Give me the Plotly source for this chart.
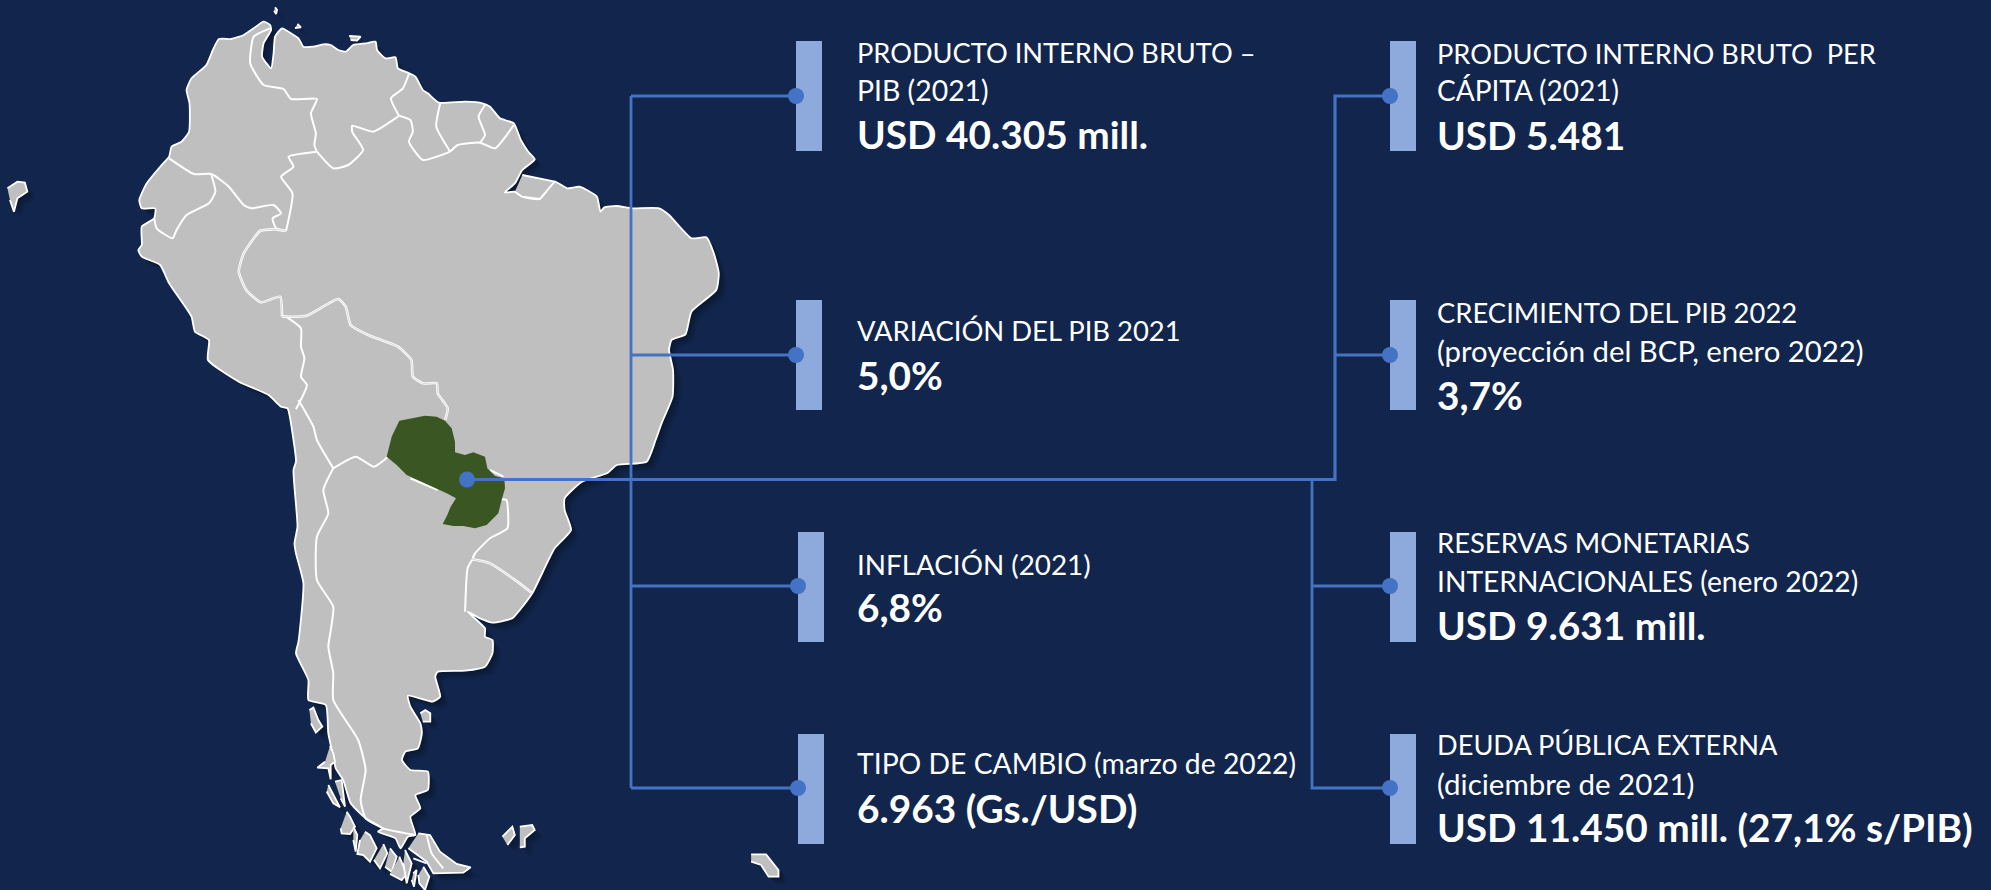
import numpy as np
import plotly.graph_objects as go

# ---------- indicator content ----------
left_titles = [
    ["PRODUCTO INTERNO BRUTO –", "PIB (2021)"],
    ["VARIACIÓN DEL PIB 2021"],
    ["INFLACIÓN (2021)"],
    ["TIPO DE CAMBIO (marzo de 2022)"],
]
left_values = ["USD 40.305 mill.", "5,0%", "6,8%", "6.963 (Gs./USD)"]
right_titles = [
    ["PRODUCTO INTERNO BRUTO  PER", "CÁPITA (2021)"],
    ["CRECIMIENTO DEL PIB 2022", "(proyección del BCP, enero 2022)"],
    ["RESERVAS MONETARIAS", "INTERNACIONALES (enero 2022)"],
    ["DEUDA PÚBLICA EXTERNA", "(diciembre de 2021)"],
]
right_values = ["USD 5.481", "3,7%", "USD 9.631 mill.", "USD 11.450 mill. (27,1% s/PIB)"]

# ---------- map geometry, traced units (x/2.0103, y/3 gives the page position) ----------
N = 1320  # offset between the upper and lower tracing sheets
mainland = [(340,470),(345,440),(365,425),(380,395),(381,310),(375,270),(385,235),(415,195),(428,150),(440,117),(465,117),(490,105),(510,85),(530,65),(543,75),(545,90),
 (530,130),(527,170),(545,205),(550,160),(553,110),(567,85),(585,100),(600,115),(610,140),(630,140),(650,133),(665,135),(680,150),(695,155),(710,135),(735,130),(755,125),(758,150),(775,175),(795,172),(800,205),(820,218),(835,230),(850,270),(860,280),(882,308),(935,305),(970,310),(985,320),(1005,355),(1033,370),(1047,420),(1062,455),(1075,478),(1050,510),(1035,550),(1015,577),
 (1035,575),(1050,590),(1085,597),(1115,545),(1140,565),(1165,560),(1200,590),(1207,635),(1215,622),(1240,618),(1270,625),(1325,625),(1345,645),(1390,715),(1420,712),(1435,760),(1445,820),(1440,870),(1390,935),(1378,1003),(1350,1020),(1345,1050),(1353,1110),(1352,1190),(1330,1270),(1318,N),
 (1300,N+65),(1240,N+75),(1220,N+100),(1170,N+125),(1135,N+175),(1135,N+210),(1148,N+270),(1115,N+325),(1070,N+460),(1045,N+510),(1030,N+535),(990,N+548),(965,N+535),(940,N+515),(975,N+565),(975,N+590),(990,N+600),(990,N+640),(975,N+680),(935,N+692),(880,N+695),(875,N+710),(885,N+770),(870,N+785),(820,N+767),(825,N+800),(845,N+850),(848,N+880),(840,N+925),(815,N+935),(808,N+960),(825,N+990),(860,N+995),(860,N+1050),(835,N+1065),(845,N+1105),(825,N+1130),(835,N+1185),
 (820,N+1190),(805,N+1225),(795,N+1195),(760,N+1175),(770,N+1165),(735,N+1135),(705,N+1090),(690,N+1020),(675,N+985),(670,N+950),(660,N+880),(655,N+795),(620,N+780),(620,N+720),(595,N+640),(600,N+605),(610,N+430),(595,N+340),(592,N+310),(598,N+260),(590,N+90),(595,N+65),(590,N),
 (578,1225),(565,1220),(540,1185),(480,1145),(418,1080),(420,1020),(392,995),(385,950),(340,850),(322,795),(285,770),(278,750),(285,735),(285,680),(310,655),(312,625),(285,625),(280,600),(295,550),(325,495),(340,470)]

islands = [
 [(553,22),(557,30),(555,42),(551,32)],
 [(598,72),(605,82),(593,84)],
 [(702,108),(725,110),(718,122),(705,120)],
 [(1050,525),(1115,545),(1085,597),(1050,590),(1035,575)],
 [(15,565),(35,545),(50,548),(55,575),(35,595),(28,635),(20,600)],
 [(622,N+810),(630,N+803),(640,N+840),(648,N+860),(635,N+878),(625,N+850)],
 [(1010,N+1190),(1030,N+1160),(1035,N+1185),(1020,N+1215)],
 [(1045,N+1160),(1070,N+1155),(1075,N+1170),(1055,N+1195),(1055,N+1220),(1045,N+1222)],
 [(1510,N+1243),(1540,N+1243),(1565,N+1290),(1565,N+1310),(1545,N+1310),(1530,N+1275),(1510,N+1265)],
 [(845,N+820),(855,N+810),(865,N+820),(865,N+845),(850,N+845)],
]

# Patagonian islands, from a 3x sheet with origin (300, 720) on the page
fjords = [
 [(90,78),(100,100),(105,125),(92,135),(92,178),(85,145),(52,143),(75,125)],
 [(85,195),(110,240),(120,262),(100,250),(80,215)],
 [(105,185),(125,180),(135,260),(122,235)],
 [(140,275),(150,290),(165,320),(150,342),(125,340),(122,325)],
 [(160,320),(172,345),(167,395),(160,360)],
 [(195,335),(210,345),(230,385),(210,425),(190,405),(172,402),(180,360)],
 [(250,372),(262,400),(240,445),(222,420)],
 [(270,385),(290,410),(275,455),(255,440)],
 [(298,410),(320,462),(305,480),(270,462)],
 [(315,390),(335,430),(320,490),(310,430)],
 [(370,440),(388,470),(375,510),(358,490),(355,465)],
 [(340,460),(350,450),(342,500),(335,480)],
 [(355,340),(390,345),(420,395),(470,432),(512,442),(490,458),(400,460),(380,425),(325,385)],
]
fuego_lines = [[(380,345),(395,400),(430,445)], [(340,415),(380,430)]]

borders = [
 [(340,475),(390,522),(425,522),(460,560),(490,615),(505,625),(550,615),(565,640),(548,655),(555,685),(575,693)],
 [(425,525),(433,575),(420,610),(375,645),(355,690),(347,715),(315,685),(310,655)],
 [(575,693),(588,580),(565,530),(590,500),(580,470),(637,455)],
 [(543,85),(510,110),(503,190),(530,255),(570,267),(585,297),(637,297),(625,340),(635,400),(632,435),(637,455)],
 [(637,455),(670,505),(700,495),(730,450),(708,395),(708,377),(750,395),(800,350)],
 [(822,222),(810,265),(786,295),(803,350)],
 [(803,347),(825,360),(830,395),(822,425),(850,480),(905,455)],
 [(885,310),(877,380),(905,455)],
 [(905,455),(920,435),(965,428),(995,445),(1033,375)],
 [(975,315),(962,350),(975,405),(965,428)],
 [(575,950),(605,985),(605,1040),(612,1075),(605,1130),(617,1155),(595,1228)],
 [(600,1200),(630,1280),(637,N),(670,N+85)],
 [(670,N+85),(715,N+50),(752,N+80),(780,N+50)],
 [(670,N+85),(650,N+150),(660,N+220),(637,N+290),(637,N+420),(670,N+500),(665,N+570),(660,N+620),(670,N+700),(670,N+780),(720,N+900),(735,N+990),(725,N+1080),(735,N+1135),(770,N+1165),(835,N+1185)],
 [(825,N+115),(880,N+150)],
 [(985,N+90),(1012,N+110)],
 [(1005,N+178),(1018,N+180),(1020,N+265),(985,N+295),(955,N+340),(950,N+355)],
 [(950,N+358),(940,N+385),(935,N+515)],
]
double_borders = [
 [(575,693),(555,688),(523,693),(490,760),(480,815),(495,870),(525,907),(563,890),(567,950)],
 [(567,950),(615,948),(680,897),(695,920),(705,975),(740,1005),(800,1040),(827,1080),(830,1130),(850,1150),(878,1150),(880,1180),(900,1225),(895,1260)],
 [(950,N+358),(985,N+370),(1040,N+425),(1070,N+460)],
]

# Paraguay, from a 3x sheet with origin (370, 400) on the page
paraguay = [(88,62),(130,55),(165,47),(200,50),(225,62),(245,85),(255,125),(255,157),(285,165),(310,157),(345,170),(352,205),(375,228),(403,235),(405,265),(395,300),(385,340),(350,375),(315,385),(280,378),(250,378),(218,372),(232,345),(242,320),(258,295),(230,280),(190,262),(150,245),(110,225),(80,195),(50,170),(65,110),(88,62)]

BG, GREY, WHITE = "#12264D", "#BFBFBF", "#FFFFFF"
BAR, LINE, GREEN = "#8EA9DB", "#4472C4", "#3A5723"


def page(points):
    arr = np.array(points, dtype=float)
    return arr[:, 0] / 2.0103, arr[:, 1] / 3.0


def sheet(points, ox, oy):
    arr = np.array(points, dtype=float)
    return ox + arr[:, 0] / 3.0, oy + arr[:, 1] / 3.0


fig = go.Figure()


def polygon(xy, fill, line=None, width=0, dx=0, dy=0, smooth=False):
    x, y = xy
    ln = dict(color=line or "rgba(0,0,0,0)", width=width)
    if smooth:
        ln.update(shape="spline", smoothing=0.5)
    fig.add_trace(go.Scatter(x=x + dx, y=y + dy, mode="lines", fill="toself", fillcolor=fill,
                             line=ln, hoverinfo="skip", showlegend=False))


def stroke(xy, color, width):
    x, y = xy
    fig.add_trace(go.Scatter(x=x, y=y, mode="lines",
                             line=dict(color=color, width=width, shape="spline", smoothing=0.5),
                             hoverinfo="skip", showlegend=False))


land = [page(s) for s in [mainland] + islands] + [sheet(s, 300, 720) for s in fjords]

# soft drop shadow beneath the land
for off, alpha in [(9, 0.05), (7, 0.07), (5, 0.09), (3, 0.12)]:
    for i, shape in enumerate(land):
        polygon(shape, f"rgba(0,0,0,{alpha})", dx=off, dy=off, smooth=(i == 0))

for i, shape in enumerate(land):
    polygon(shape, GREY, WHITE, 1.8, smooth=(i == 0))

for b in borders:
    stroke(page(b), WHITE, 2.0)
for b in double_borders:
    stroke(page(b), WHITE, 2.6)
    stroke(page(b), "#B0B0B0", 0.5)
for b in fuego_lines:
    stroke(sheet(b, 300, 720), WHITE, 1.8)
polygon(sheet(paraguay, 370, 400), GREEN)

# connectors
hub_left, hub_up, hub_down, main_y = 631, 1335, 1312, 479.5
rows_y = [96, 355, 586, 788]
left_bar_x = [796, 796, 798, 798]
right_bar_x = 1390


def path(xs, ys, w):
    fig.add_trace(go.Scatter(x=xs, y=ys, mode="lines", line=dict(color=LINE, width=w),
                             hoverinfo="skip", showlegend=False))


path([hub_left, hub_left], [rows_y[0], rows_y[3]], 2.8)
for y, bx in zip(rows_y, left_bar_x):
    path([hub_left, bx], [y, y], 2.8)
path([467, hub_up, hub_up, right_bar_x], [main_y, main_y, rows_y[0], rows_y[0]], 3.2)
path([hub_up, right_bar_x], [rows_y[1], rows_y[1]], 2.8)
path([hub_down, hub_down, right_bar_x], [main_y, rows_y[3], rows_y[3]], 2.8)
path([hub_down, right_bar_x], [rows_y[2], rows_y[2]], 2.8)

# indicator bars
bar_spans = [(41, 151), (300, 410), (532, 642), (734, 844)]
for (t, b), bx in list(zip(bar_spans, left_bar_x)) + [(s, right_bar_x) for s in bar_spans]:
    fig.add_trace(go.Scatter(x=[bx, bx + 26, bx + 26, bx, bx], y=[t, t, b, b, t], mode="lines",
                             fill="toself", fillcolor=BAR, line=dict(width=0), hoverinfo="skip", showlegend=False))

# dots
fig.add_trace(go.Scatter(
    x=left_bar_x + [right_bar_x] * 4 + [467], y=rows_y + rows_y + [main_y], mode="markers",
    marker=dict(color=LINE, size=16, line=dict(width=0)), hoverinfo="skip", showlegend=False))

# text rows: centre of each line, then the value line; title sizes fitted line by line
left_text_y = [([52, 90], 134), ([330], 375), ([564], 607), ([763], 808)]
right_text_y = [([53, 90], 135), ([312, 350], 395), ([542, 581], 625), ([744, 783], 827)]
left_sizes = [[27.2, 28.4], [27.4], [27.8], [28.3]]
right_sizes = [[27.2, 28.0], [27.4, 29.3], [27.4, 28.2], [27.2, 29.5]]
FONT = "Lato, Carlito, Calibri, sans-serif"
VALUE_PX = 38.8


def put(x, y, text, size, bold=False):
    fig.add_annotation(x=x, y=y, xref="x", yref="y", text=f"<b>{text}</b>" if bold else text,
                       showarrow=False, xanchor="left", yanchor="middle", align="left",
                       font=dict(family=FONT, size=size, color=WHITE))


for titles, value, (ys, vy), sizes in zip(left_titles, left_values, left_text_y, left_sizes):
    for t, y, s in zip(titles, ys, sizes):
        put(854.5, y, t, s)
    put(854.5, vy, value, VALUE_PX, True)
for titles, value, (ys, vy), sizes in zip(right_titles, right_values, right_text_y, right_sizes):
    for t, y, s in zip(titles, ys, sizes):
        put(1434.5, y, t, s)
    put(1434.5, vy, value, VALUE_PX, True)

fig.update_layout(
    width=1991, height=890, margin=dict(l=0, r=0, t=0, b=0), autosize=False,
    paper_bgcolor=BG, plot_bgcolor=BG, showlegend=False,
    xaxis=dict(range=[0, 1991], visible=False, fixedrange=True),
    yaxis=dict(range=[890, 0], visible=False, fixedrange=True),
)
fig.write_html("out.html", config=dict(displayModeBar=False),
               post_script="document.body.style.margin='0';document.documentElement.style.overflow='hidden';document.body.style.background='#12264D';")
